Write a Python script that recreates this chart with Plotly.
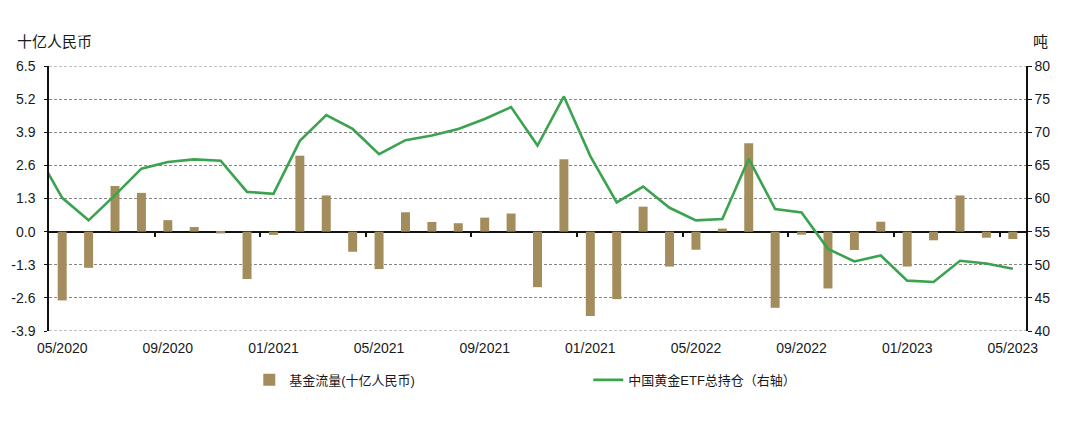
import plotly.graph_objects as go

# ---------------- data ----------------
bar_months = ["2020-05", "2020-06", "2020-07", "2020-08", "2020-09", "2020-10", "2020-11", "2020-12",
              "2021-01", "2021-02", "2021-03", "2021-04", "2021-05", "2021-06", "2021-07", "2021-08",
              "2021-09", "2021-10", "2021-11", "2021-12", "2022-01", "2022-02", "2022-03", "2022-04",
              "2022-05", "2022-06", "2022-07", "2022-08", "2022-09", "2022-10", "2022-11", "2022-12",
              "2023-01", "2023-02", "2023-03", "2023-04", "2023-05"]
fund_flows = [-2.70, -1.42, 1.79, 1.52, 0.45, 0.18, -0.07, -1.86,
              -0.13, 2.98, 1.42, -0.79, -1.47, 0.76, 0.38, 0.33,
              0.55, 0.71, -2.18, 2.84, -3.31, -2.65, 0.98, -1.37,
              -0.71, 0.12, 3.47, -2.99, -0.12, -2.23, -0.72, 0.39,
              -1.37, -0.34, 1.42, -0.24, -0.29]

line_months = ["2020-04"] + bar_months
etf_holdings = [67.1, 60.1, 56.7, 60.5, 64.5, 65.5, 65.9, 65.7, 61.0,
                60.7, 68.7, 72.6, 70.5, 66.7, 68.8, 69.5, 70.5,
                72.0, 73.8, 68.0, 75.4, 66.4, 59.4, 61.8, 58.6,
                56.7, 56.9, 66.0, 58.4, 57.9, 52.4, 50.5, 51.4,
                47.6, 47.4, 50.6, 50.2, 49.4]

tick_months = ["2020-05", "2020-09", "2021-01", "2021-05", "2021-09", "2022-01",
               "2022-05", "2022-09", "2023-01", "2023-05"]
tick_labels = ["05/2020", "09/2020", "01/2021", "05/2021", "09/2021", "01/2021",
               "05/2022", "09/2022", "01/2023", "05/2023"]

left_ticks = [-3.9, -2.6, -1.3, 0.0, 1.3, 2.6, 3.9, 5.2, 6.5]
right_ticks = [40, 45, 50, 55, 60, 65, 70, 75, 80]

bar_name = "基金流量(十亿人民币)"
line_name = "中国黄金ETF总持仓（右轴）"
left_title = "十亿人民币"
right_title = "吨"


def month_index(m):
    y, mo = m.split("-")
    return (int(y) - 2020) * 12 + int(mo) - 5


bar_x = [month_index(m) for m in bar_months]
line_x = [month_index(m) for m in line_months]
tick_x = [month_index(m) for m in tick_months]
n = len(bar_months)
boundary_ticks = [month_index(m) - 0.5 for m in tick_months[1:]]

FONT = "Liberation Sans, Noto Sans CJK SC, sans-serif"
TXT = "#1a1a1a"
GRID = "#858585"
DASH = "3px,2px"

fig = go.Figure()
fig.add_trace(go.Bar(
    x=bar_x, y=fund_flows, name=bar_name,
    marker=dict(color="#A38D5C", line=dict(width=0)),
    xaxis="x", yaxis="y",
))
fig.add_trace(go.Scatter(
    x=line_x, y=etf_holdings, name=line_name, mode="lines",
    line=dict(color="#3BA34F", width=2.6),
    xaxis="x2", yaxis="y2",
))

xr = [-0.5, n - 0.5]
fig.update_layout(
    width=1064, height=409,
    margin=dict(l=41, r=46, t=58, b=86, autoexpand=False),
    paper_bgcolor="white", plot_bgcolor="white",
    font=dict(family=FONT, size=13, color=TXT),
    bargap=0.66,
    showlegend=True,
    legend=dict(orientation="h", x=0.205, xanchor="left", y=-0.128, yanchor="top",
                font=dict(size=13, color=TXT), entrywidth=294, entrywidthmode="pixels",
                itemwidth=30, traceorder="normal"),
    xaxis=dict(range=xr, tickmode="array", tickvals=tick_x, ticktext=tick_labels,
               showgrid=False, zeroline=False, showline=False, ticks="",
               ticklabelstandoff=7,
               automargin=False, tickfont=dict(size=14, color=TXT), anchor="y"),
    xaxis2=dict(range=xr, overlaying="x", anchor="free", position=(0 + 3.9) / 10.4,
                tickmode="array", tickvals=boundary_ticks, ticks="outside", ticklen=4,
                tickwidth=1.5, tickcolor="#111", showticklabels=False, automargin=False,
                showgrid=False, zeroline=False, showline=False),
    yaxis=dict(range=[-3.9, 6.5], tickmode="array", tickvals=left_ticks,
               ticktext=[f"{v:.1f}" for v in left_ticks], automargin=False,
               showgrid=True, gridcolor=GRID, griddash=DASH, gridwidth=1,
               zeroline=True, zerolinecolor="#111", zerolinewidth=1.6,
               showline=True, linecolor="#111", linewidth=1.5,
               ticks="outside", ticklen=3, tickcolor="#111", ticklabelstandoff=6,
               tickfont=dict(size=14, color=TXT)),
    yaxis2=dict(range=[40, 80], tickmode="array", tickvals=right_ticks, automargin=False,
                overlaying="y", side="right", showgrid=False, zeroline=False,
                showline=True, linecolor="#111", linewidth=1.5,
                ticks="outside", ticklen=4, tickcolor="#111",
                tickfont=dict(size=14, color=TXT)),
    shapes=[
        dict(type="line", xref="paper", yref="y", x0=0, x1=1, y0=v, y1=v,
             line=dict(color=GRID, width=1, dash=DASH), layer="below")
        for v in (left_ticks[0], left_ticks[-1])
    ],
    annotations=[
        dict(text=left_title, xref="paper", yref="paper", x=-0.035, y=1.051,
             xanchor="left", yanchor="bottom", showarrow=False,
             font=dict(size=15, color=TXT)),
        dict(text=right_title, xref="paper", yref="paper", x=1.005, y=1.051,
             xanchor="left", yanchor="bottom", showarrow=False,
             font=dict(size=15, color=TXT)),
    ],
)

fig.write_html("out.html")
